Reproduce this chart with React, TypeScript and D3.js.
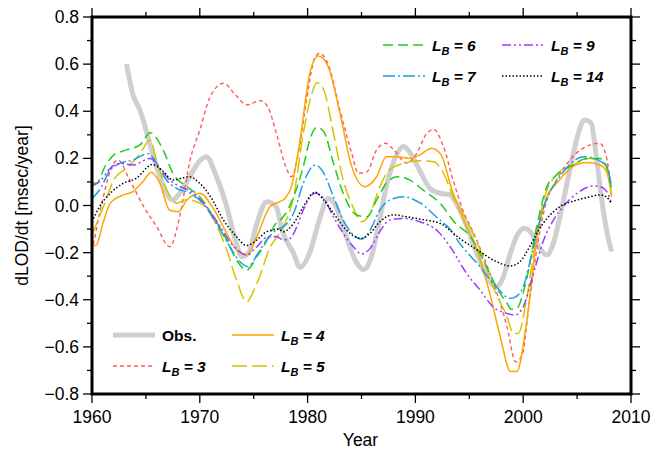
import React from "react";
import * as d3 from "d3";

type Pt = [number, number];

const obs: Pt[] = [
  [1963.2, 0.6], [1963.8, 0.47], [1964.45, 0.405], [1965.1, 0.306], [1965.7, 0.207], [1966.3, 0.122],
  [1966.9, 0.052], [1967.5, 0.023], [1968.1, 0.05], [1968.8, 0.1], [1970.0, 0.19], [1970.6, 0.207],
  [1971.55, 0.122], [1972.5, -0.005], [1973.3, -0.146], [1973.9, -0.217], [1974.5, -0.203], [1975.3, -0.076],
  [1976.2, 0.016], [1977.1, -0.005], [1977.6, -0.1], [1978.7, -0.203], [1979.3, -0.262], [1980.2, -0.2],
  [1981.1, -0.06], [1981.9, 0.03], [1982.6, 0.0], [1983.5, -0.12], [1984.4, -0.23], [1985.2, -0.272],
  [1985.9, -0.22], [1986.6, -0.08], [1987.3, 0.08], [1988.1, 0.2], [1988.9, 0.25], [1989.7, 0.21],
  [1990.5, 0.14], [1991.4, 0.07], [1992.3, 0.052], [1993.2, 0.045], [1993.9, 0.0], [1994.7, -0.08],
  [1995.5, -0.18], [1996.5, -0.29], [1997.5, -0.345], [1998.1, -0.31], [1998.7, -0.22], [1999.4, -0.13],
  [2000.1, -0.097], [2000.8, -0.12], [2001.5, -0.18], [2002.2, -0.21], [2002.8, -0.16], [2003.4, -0.05],
  [2004.0, 0.08], [2004.6, 0.21], [2005.2, 0.32], [2005.7, 0.363], [2006.3, 0.35], [2006.8, 0.2],
  [2007.3, 0.02], [2007.8, -0.12], [2008.2, -0.196],
];

const lb3: Pt[] = [
  [1960, -0.196], [1961.05, 0.037], [1961.8, 0.16], [1962.4, 0.193], [1963.5, 0.108], [1964.8, -0.005],
  [1966.0, -0.09], [1967.2, -0.175], [1968.2, -0.033], [1969.1, 0.193], [1970.0, 0.32], [1970.95, 0.46],
  [1972.2, 0.519], [1973.3, 0.47], [1974.35, 0.427], [1975.6, 0.445], [1976.3, 0.42], [1977.1, 0.306],
  [1978.1, 0.15], [1978.5, 0.122], [1979.3, 0.264], [1979.9, 0.448], [1980.7, 0.63], [1981.1, 0.646],
  [1981.9, 0.6], [1983.0, 0.405], [1984.1, 0.22], [1984.7, 0.137], [1985.5, 0.143], [1986.4, 0.236],
  [1987.2, 0.264], [1988.0, 0.236], [1989.2, 0.179], [1990.1, 0.22], [1991.05, 0.306], [1991.7, 0.323],
  [1992.6, 0.25], [1993.5, 0.108], [1994.4, -0.02], [1995.4, -0.117], [1996.9, -0.287], [1998.5, -0.514],
  [1999.3, -0.663], [1999.9, -0.635], [2000.6, -0.4], [2001.4, -0.146], [2002.2, 0.023], [2003.0, 0.1],
  [2004.6, 0.207], [2006.2, 0.257], [2007.1, 0.264], [2007.75, 0.2], [2008.2, 0.037],
];

const lb4: Pt[] = [
  [1960, -0.172], [1960.4, -0.168], [1961.05, -0.07], [1961.7, 0.01], [1962.9, 0.045], [1963.8, 0.059],
  [1964.7, 0.1], [1965.5, 0.141], [1966.3, 0.094], [1967.2, -0.02], [1968.0, -0.026], [1968.8, 0.023],
  [1970.0, 0.052], [1971.25, -0.012], [1972.5, -0.118], [1973.4, -0.189], [1974.35, -0.21], [1975.3, -0.132],
  [1976.5, -0.005], [1977.4, 0.016], [1977.9, 0.03], [1978.5, 0.08], [1979.3, 0.278], [1980.2, 0.56],
  [1981.0, 0.634], [1981.9, 0.59], [1983.0, 0.391], [1984.1, 0.165], [1985.3, 0.08], [1986.4, 0.122],
  [1987.3, 0.207], [1988.3, 0.207], [1989.5, 0.2], [1990.4, 0.214], [1991.5, 0.243], [1992.4, 0.214],
  [1993.3, 0.08], [1994.75, -0.09], [1995.7, -0.189], [1996.9, -0.373], [1997.8, -0.543], [1998.85, -0.705],
  [1999.4, -0.705], [2000.3, -0.5], [2001.25, -0.146], [2002.2, 0.037], [2003.1, 0.094], [2004.6, 0.165],
  [2005.9, 0.182], [2007.1, 0.172], [2007.75, 0.143], [2008.2, 0.037],
];

const lb5: Pt[] = [
  [1960, -0.125], [1961, -0.012], [1962.1, 0.115], [1963.2, 0.158], [1964.45, 0.22], [1965.4, 0.278],
  [1966.0, 0.19], [1966.9, 0.07], [1967.85, 0.01], [1968.8, 0.025], [1969.7, 0.016], [1970.6, -0.01],
  [1971.4, -0.07], [1972.5, -0.189], [1973.4, -0.316], [1974.35, -0.408], [1975.3, -0.33], [1976.5, -0.18],
  [1977.75, -0.09], [1978.7, 0.037], [1979.6, 0.306], [1980.4, 0.476], [1980.85, 0.521], [1981.5, 0.49],
  [1982.4, 0.306], [1983.3, 0.108], [1984.25, -0.01], [1985.0, -0.069], [1985.8, -0.033], [1986.7, 0.08],
  [1987.6, 0.151], [1988.9, 0.179], [1990.4, 0.19], [1991.7, 0.186], [1992.6, 0.137], [1993.5, 0.037],
  [1994.75, -0.062], [1996, -0.189], [1997.2, -0.345], [1998.5, -0.472], [1999.1, -0.543], [1999.55, -0.543],
  [2000.3, -0.4], [2001.25, -0.118], [2002.2, 0.066], [2003.1, 0.13], [2004.6, 0.172], [2006.2, 0.2],
  [2007.1, 0.196], [2007.75, 0.158], [2008.2, 0.045],
];

const lb6: Pt[] = [
  [1960, 0.097], [1960.4, 0.094], [1961.2, 0.165], [1962, 0.214], [1963.2, 0.236], [1964.45, 0.257],
  [1965.4, 0.309], [1966.6, 0.236], [1967.5, 0.137], [1968.8, 0.08], [1970, 0.037], [1971.25, -0.048],
  [1972.5, -0.146], [1973.4, -0.231], [1974.35, -0.274], [1975.3, -0.217], [1976.2, -0.15], [1977.0, -0.08],
  [1977.75, -0.048], [1978.7, 0.037], [1979.6, 0.165], [1980.2, 0.278], [1980.85, 0.332], [1981.5, 0.313],
  [1982.4, 0.179], [1983.3, 0.052], [1984.55, -0.04], [1985.5, -0.048], [1986.4, 0.023], [1987.3, 0.094],
  [1988.3, 0.122], [1989.5, 0.108], [1990.7, 0.066], [1992.3, 0.009], [1993.6, -0.07], [1995.1, -0.132],
  [1996.3, -0.231], [1997.5, -0.345], [1998.5, -0.415], [1998.9, -0.44], [1999.4, -0.436], [2000.3, -0.316],
  [2001.25, -0.09], [2002.2, 0.08], [2003.1, 0.13], [2004.6, 0.172], [2005.9, 0.2], [2007.1, 0.2],
  [2007.75, 0.165], [2008.2, 0.066],
];

const lb7: Pt[] = [
  [1960, 0.03], [1960.7, 0.066], [1961.7, 0.151], [1962.6, 0.179], [1963.8, 0.193], [1965.2, 0.22],
  [1966.0, 0.179], [1966.9, 0.108], [1967.85, 0.073], [1969.1, 0.052], [1970.3, 0.009], [1971.55, -0.076],
  [1972.8, -0.175], [1973.7, -0.238], [1974.5, -0.26], [1975.3, -0.21], [1976.2, -0.146], [1977.1, -0.104],
  [1977.75, -0.09], [1978.7, -0.033], [1979.6, 0.094], [1980.7, 0.172], [1981.5, 0.137], [1982.4, 0.037],
  [1983.3, -0.062], [1984.25, -0.125], [1985, -0.143], [1985.8, -0.104], [1986.7, -0.019], [1987.6, 0.023],
  [1988.9, 0.037], [1990.4, 0.012], [1992.1, -0.055], [1993.2, -0.1], [1994.1, -0.16], [1996, -0.26],
  [1997.5, -0.345], [1998.8, -0.394], [1999.2, -0.39], [2000, -0.345], [2000.95, -0.175], [2001.9, -0.005],
  [2002.5, 0.059], [2003.5, 0.13], [2004.6, 0.186], [2005.6, 0.207], [2006.8, 0.196], [2007.75, 0.165],
  [2008.2, 0.08],
];

const lb9: Pt[] = [
  [1960, 0.083], [1960.7, 0.101], [1961.7, 0.158], [1962.6, 0.179], [1963.8, 0.172], [1965.4, 0.2],
  [1966.3, 0.158], [1967.2, 0.108], [1968.2, 0.08], [1969.4, 0.052], [1970.6, -0.005], [1971.9, -0.09],
  [1972.8, -0.154], [1973.7, -0.196], [1974.35, -0.21], [1975.3, -0.175], [1976.2, -0.135], [1977.1, -0.132],
  [1977.75, -0.146], [1978.4, -0.139], [1979, -0.09], [1979.6, -0.019], [1980.7, 0.052], [1981.5, 0.03],
  [1982.4, -0.048], [1983.3, -0.118], [1984.25, -0.175], [1985, -0.206], [1985.8, -0.182], [1986.7, -0.111],
  [1987.6, -0.062], [1988.9, -0.055], [1990.4, -0.069], [1992.1, -0.11], [1993.3, -0.18], [1994.75, -0.288],
  [1996, -0.359], [1997.2, -0.43], [1998.5, -0.458], [1999.2, -0.465], [2000, -0.43], [2000.95, -0.288],
  [2001.9, -0.146], [2002.8, -0.062], [2003.7, -0.005], [2005, 0.052], [2006.5, 0.083], [2007.1, 0.08],
  [2007.75, 0.059], [2008.2, 0.009],
];

const lb14: Pt[] = [
  [1960, -0.069], [1960.7, -0.005], [1961.7, 0.052], [1962.9, 0.094], [1964.1, 0.115], [1965.6, 0.174],
  [1966.6, 0.145], [1967.5, 0.108], [1969.0, 0.122], [1970.0, 0.094], [1971, 0.037], [1972.2, -0.062],
  [1973.4, -0.132], [1974.35, -0.17], [1975.3, -0.146], [1976.2, -0.111], [1977.3, -0.101], [1977.75, -0.111],
  [1978.7, -0.076], [1979.6, -0.005], [1980.7, 0.056], [1981.5, 0.023], [1982.4, -0.033], [1983.6, -0.104],
  [1984.9, -0.139], [1985.8, -0.118], [1986.7, -0.069], [1987.95, -0.04], [1989.2, -0.048], [1990.7, -0.06],
  [1992.3, -0.076], [1994.1, -0.139], [1996, -0.196], [1997.5, -0.238], [1998.8, -0.257], [1999.7, -0.238],
  [2000.6, -0.175], [2001.25, -0.118], [2002.2, -0.055], [2003.4, -0.005], [2005, 0.023], [2006.2, 0.037],
  [2007.1, 0.045], [2007.75, 0.035], [2008.2, 0.006],
];

const yTicks = [0.8, 0.6, 0.4, 0.2, 0.0, -0.2, -0.4, -0.6, -0.8];
const xTicks = [1960, 1970, 1980, 1990, 2000, 2010];

const series = [
  { key: "obs", label: "Obs.", data: obs, color: "#cfcfcf", width: 5, dash: "" },
  { key: "3", label: "3", data: lb3, color: "#ff5a5a", width: 1.4, dash: "4,3" },
  { key: "4", label: "4", data: lb4, color: "#ffa500", width: 1.5, dash: "" },
  { key: "5", label: "5", data: lb5, color: "#d4c400", width: 1.5, dash: "15,5" },
  { key: "6", label: "6", data: lb6, color: "#22cc22", width: 1.5, dash: "10,5" },
  { key: "7", label: "7", data: lb7, color: "#1a9ee6", width: 1.5, dash: "12,3,2,3" },
  { key: "9", label: "9", data: lb9, color: "#9b3bff", width: 1.5, dash: "9,3,2,3,2,3" },
  { key: "14", label: "14", data: lb14, color: "#000000", width: 1.5, dash: "1.5,2" },
];

// legend layout: [series key, x of sample start, y]
const legendSlots: [string, number, number][] = [
  ["obs", 113, 335],
  ["3", 113, 366],
  ["4", 232, 335],
  ["5", 232, 366],
  ["6", 383, 45],
  ["7", 383, 76],
  ["9", 502, 45],
  ["14", 502, 76],
];

const W = 653;
const H = 452;
const margin = { top: 17, right: 22, bottom: 58, left: 92 };
const font = "'Liberation Sans', Arial, Helvetica, sans-serif";

export default function App() {
  const iw = W - margin.left - margin.right;
  const ih = H - margin.top - margin.bottom;
  const x = d3.scaleLinear().domain([1960, 2010]).range([0, iw]);
  const y = d3.scaleLinear().domain([-0.8, 0.8]).range([ih, 0]);
  const line = d3
    .line<Pt>()
    .x((d) => x(d[0]))
    .y((d) => y(d[1]))
    .curve(d3.curveMonotoneX);

  const yMinor = d3.range(-8, 9).map((i) => i / 10);
  const xMinor = d3.range(1960, 2011, 5);
  const fmt = (v: number) => d3.format(".1f")(v).replace("-", "\u2212");

  return (
    <div style={{ position: "fixed", left: 0, top: 0 }}>
      <svg width={W} height={H} style={{ display: "block", background: "#fff" }} fontFamily={font}>
        <g transform={`translate(${margin.left},${margin.top})`}>
          {series.map((s) => (
            <path
              key={s.key}
              d={line(s.data) || ""}
              fill="none"
              stroke={s.color}
              strokeWidth={s.width}
              strokeDasharray={s.dash || undefined}
              strokeLinejoin="round"
            />
          ))}

          {/* ticks */}
          {yMinor.map((v, i) => {
            const major = Math.abs(Math.round(v * 10)) % 2 === 0;
            const len = major ? 9 : 5;
            return (
              <g key={"yt" + i} stroke="#000" strokeWidth={1.3}>
                <line x1={-len} x2={0} y1={y(v)} y2={y(v)} />
                <line x1={iw} x2={iw + len} y1={y(v)} y2={y(v)} />
              </g>
            );
          })}
          {xMinor.map((v) => {
            const major = v % 10 === 0;
            const len = major ? 9 : 5;
            return (
              <g key={"xt" + v} stroke="#000" strokeWidth={1.3}>
                <line x1={x(v)} x2={x(v)} y1={ih} y2={ih + len} />
                <line x1={x(v)} x2={x(v)} y1={0} y2={-len} />
              </g>
            );
          })}
          <rect x={0} y={0} width={iw} height={ih} fill="none" stroke="#000" strokeWidth={3} />

          {yTicks.map((v) => (
            <text key={"yl" + v} x={-13} y={y(v) + 6} textAnchor="end" fontSize={17.5}>
              {fmt(v)}
            </text>
          ))}
          {xTicks.map((v) => (
            <text key={"xl" + v} x={x(v)} y={ih + 29} textAnchor="middle" fontSize={17.5}>
              {v}
            </text>
          ))}
          <text x={iw / 2 - 1} y={ih + 52} textAnchor="middle" fontSize={17.5}>
            Year
          </text>
          <text
            transform={`translate(${-64},${ih / 2}) rotate(-90)`}
            textAnchor="middle"
            fontSize={17.5}
          >
            dLOD/dt [msec/year]
          </text>
        </g>

        {/* legends */}
        {legendSlots.map(([k, lx, ly]) => {
          const s = series.find((d) => d.key === k)!;
          return (
            <g key={"lg" + k}>
              <line
                x1={lx}
                x2={lx + 42}
                y1={ly}
                y2={ly}
                stroke={s.color}
                strokeWidth={s.width}
                strokeDasharray={s.dash || undefined}
              />
              {k === "obs" ? (
                <text x={lx + 49} y={ly + 6} fontSize={15.5} fontWeight="bold">
                  Obs.
                </text>
              ) : (
                <text x={lx + 49} y={ly + 6} fontSize={15.5} fontWeight="bold" fontStyle="italic">
                  <tspan>L</tspan>
                  <tspan dy={4} fontSize={11}>B</tspan>
                  <tspan dy={-4}>{" = " + s.label}</tspan>
                </text>
              )}
            </g>
          );
        })}
      </svg>
    </div>
  );
}
